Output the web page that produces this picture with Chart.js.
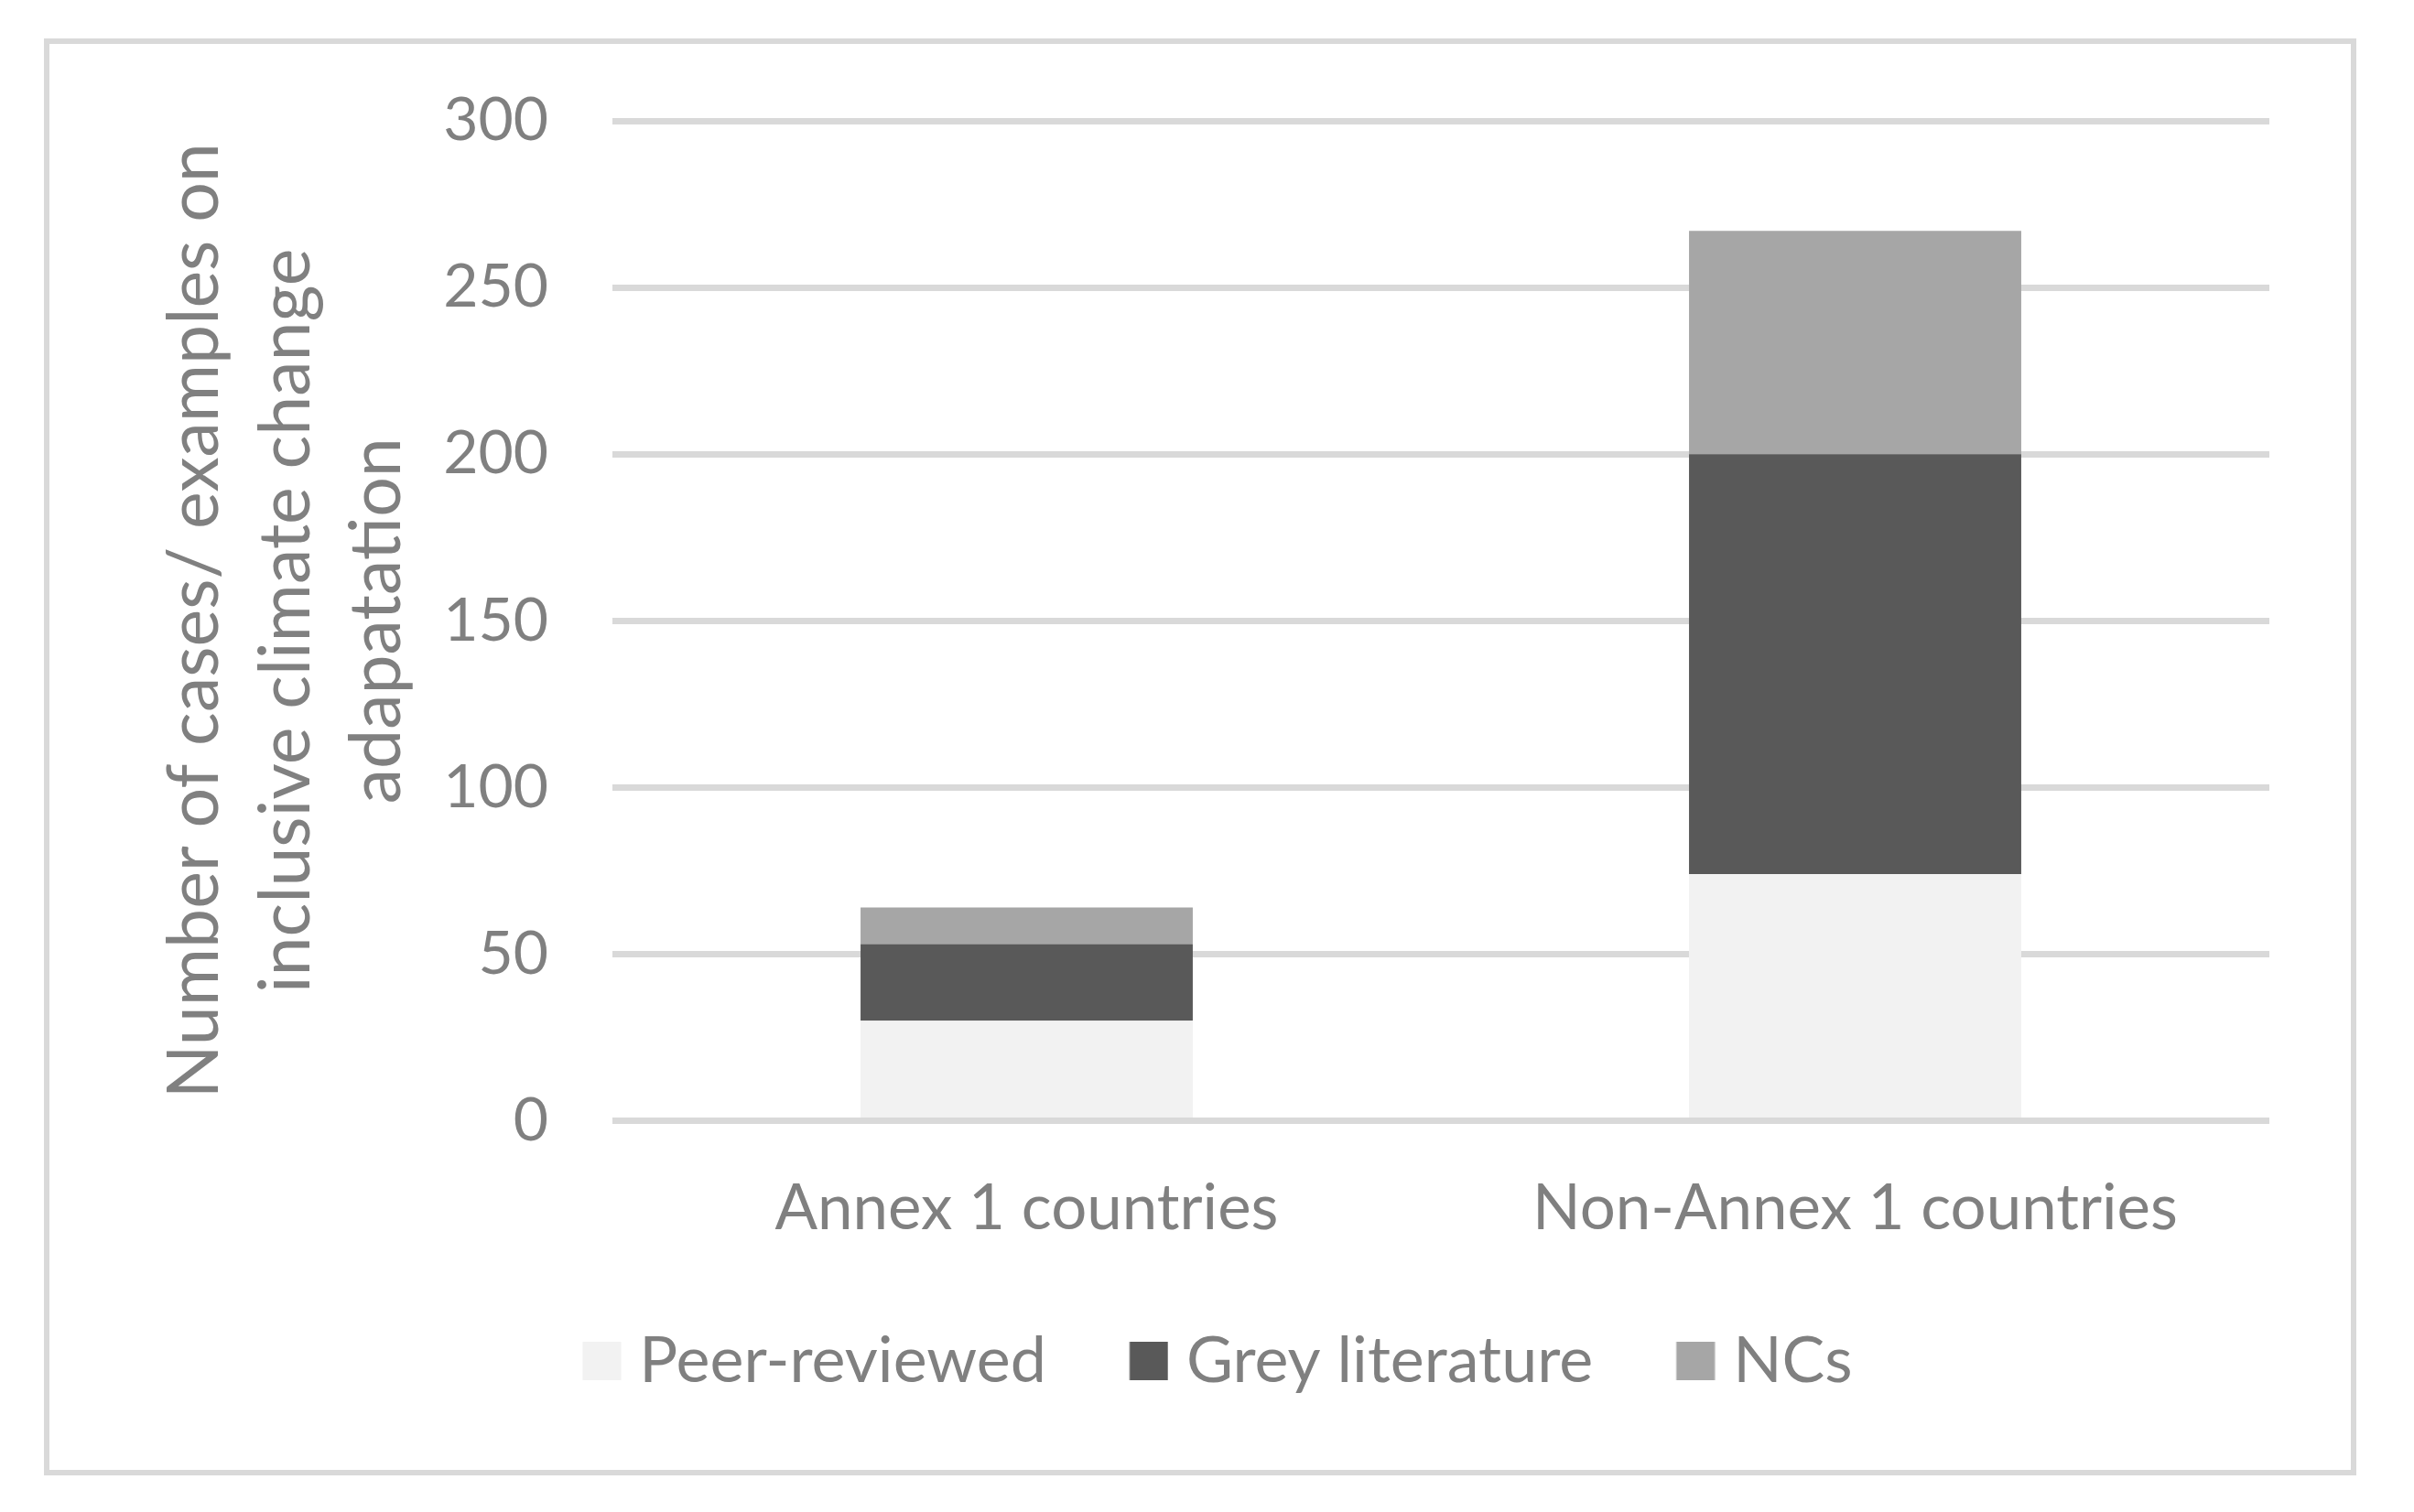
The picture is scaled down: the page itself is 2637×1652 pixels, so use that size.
<!DOCTYPE html>
<html>
<head>
<meta charset="utf-8">
<script src="https://cdn.jsdelivr.net/npm/chart.js@4/dist/chart.umd.min.js"></script>
<style>
    html, body {
        margin: 0;
        padding: 0;
        background: #ffffff;
    }
    #chartFrame {
        position: absolute;
        left: 48px;
        top: 42px;
        width: 2526px;
        height: 1570px;
        box-sizing: border-box;
        border: 6px solid #d9d9d9;
        background: #ffffff;
    }
    #casesChart {
        display: block;
    }
</style>
</head>
<body>
<div id="chartFrame">
    <canvas id="casesChart" width="2514" height="1558"></canvas>
</div>
<script>
const categories = ["Annex 1 countries", "Non-Annex 1 countries"];
const peerReviewed = [30, 74];
const greyLiterature = [23, 126];
const ncs = [11, 67];

const yMin = 0;
const yMax = 300;
const yStep = 50;

const axisTitle = [
    "Number of cases/ examples on",
    "inclusive climate change",
    "adapatation",
];

const seriesColors = ["#f2f2f2", "#595959", "#a6a6a6"];
const textColor = "#808080";
const fontFamily = "Lato, 'Open Sans', sans-serif";
const legendFontSize = 70;

// legend swatch drawn as a small canvas so the gap to the text stays tight
function makeSwatch(color) {
    const c = document.createElement("canvas");
    c.width = 58;
    c.height = 42;
    const g = c.getContext("2d");
    g.fillStyle = color;
    g.fillRect(15.5, 0, 42, 42);
    return c;
}

function makeDataset(label, data, color) {
    return {
        label: label,
        data: data,
        backgroundColor: color,
        borderWidth: 0,
        stack: "cases",
        barPercentage: 0.401,
        categoryPercentage: 1,
    };
}

const ctx = document.getElementById("casesChart").getContext("2d");

new Chart(ctx, {
    type: "bar",
    data: {
        labels: categories,
        datasets: [
            makeDataset("Peer-reviewed", peerReviewed, seriesColors[0]),
            makeDataset("Grey literature", greyLiterature, seriesColors[1]),
            makeDataset("NCs", ncs, seriesColors[2]),
        ],
    },
    options: {
        responsive: false,
        animation: false,
        layout: {
            padding: {
                top: 84,
                right: 89,
                bottom: 74,
                left: 127,
            },
        },
        plugins: {
            legend: {
                position: "bottom",
                labels: {
                    usePointStyle: true,
                    boxWidth: 27,
                    boxHeight: 42,
                    padding: 91,
                    color: textColor,
                    font: {
                        family: fontFamily,
                        size: legendFontSize,
                    },
                    generateLabels: function (chart) {
                        const items =
                            Chart.defaults.plugins.legend.labels.generateLabels(chart);
                        items.forEach(function (item, i) {
                            item.pointStyle = makeSwatch(seriesColors[i]);
                        });
                        return items;
                    },
                },
            },
            tooltip: {
                enabled: false,
            },
        },
        scales: {
            x: {
                stacked: true,
                grid: {
                    display: false,
                },
                border: {
                    display: false,
                },
                ticks: {
                    color: textColor,
                    padding: 47,
                    maxRotation: 0,
                    font: {
                        family: fontFamily,
                        size: 69,
                    },
                },
                afterFit: function (scale) {
                    scale.height = 136.5;
                },
            },
            y: {
                stacked: true,
                min: yMin,
                max: yMax,
                ticks: {
                    stepSize: yStep,
                    color: textColor,
                    padding: 0,
                    font: {
                        family: fontFamily,
                        size: 66,
                    },
                },
                grid: {
                    color: "#d9d9d9",
                    lineWidth: 7,
                    drawTicks: true,
                    tickLength: 70,
                    tickColor: "rgba(0,0,0,0)",
                },
                border: {
                    display: false,
                },
                title: {
                    display: true,
                    text: axisTitle,
                    color: textColor,
                    padding: { top: -17, bottom: 0 },
                    font: {
                        family: fontFamily,
                        size: 77,
                        lineHeight: 1.288,
                    },
                },
                afterFit: function (scale) {
                    scale.width = 488;
                },
            },
        },
    },
});
</script>
</body>
</html>
